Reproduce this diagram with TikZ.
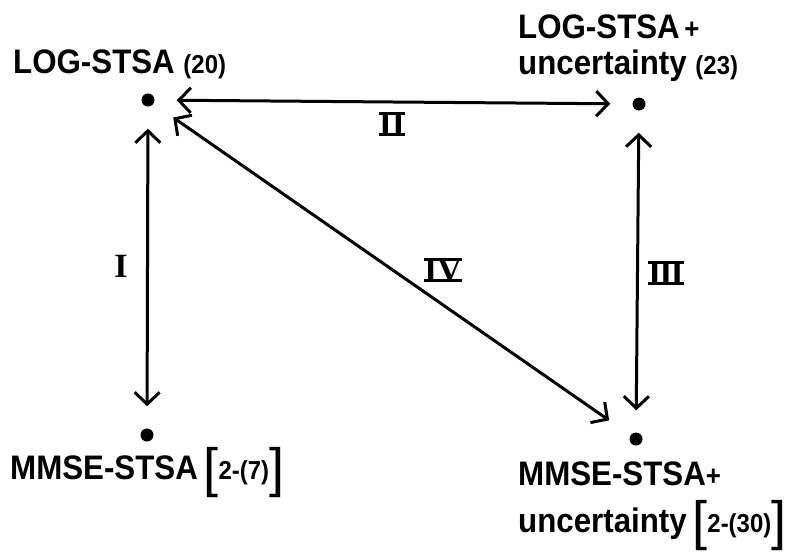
\documentclass[tikz,border=0pt]{standalone}
\usepackage{fontspec}
\usetikzlibrary{arrows.meta}
\newfontfamily\lblfont[FakeStretch=0.92]{Liberation Sans Bold}
\newfontfamily\brkfont{Liberation Sans}
\newfontfamily\romfont{Liberation Serif}
\newcommand\bigtxt{\lblfont\fontsize{34}{36}\selectfont}
\newcommand\smtxt{\lblfont\fontsize{26}{28}\selectfont}
\newcommand\plustxt{\lblfont\fontsize{28}{30}\selectfont}
\newcommand\brk[1]{\raisebox{-7pt}{\brkfont\fontsize{54}{54}\selectfont #1}}
\newcommand\barred[1]{\setbox0\hbox{#1}\leavevmode\rlap{\rule[-0.5pt]{\wd0}{2.8pt}}\rlap{\raisebox{\dimexpr\ht0-2.3pt\relax}{\rule{\wd0}{2.8pt}}}\box0}
\tikzset{
  dot/.style={circle,fill=black,inner sep=0pt,minimum size=13pt},
  txt/.style={inner sep=0pt,anchor=base west},
  rom/.style={inner sep=0pt,font=\romfont\bfseries\fontsize{34}{36}\selectfont},
  arr/.style={line width=3pt,{Straight Barb[length=12pt,width=25pt]}-{Straight Barb[length=12pt,width=25pt]},shorten <=22pt,shorten >=22pt}
}
\begin{document}
\begin{tikzpicture}[x=1pt,y=-1pt]
\useasboundingbox (0,0) rectangle (801,552);
% dots
\node[dot] (tl) at (148,100) {};
\node[dot] (tr) at (639,104) {};
\node[dot] (bl) at (147,435) {};
\node[dot] (br) at (636,439) {};
% labels
\node[txt] (ltl) at (13,73) {\bigtxt LOG-STSA \smtxt(20)};
\node[txt] (ltr1) at (518,38) {\bigtxt LOG-STSA\plustxt\,+};
\node[txt] (ltr2) at (518,74) {\bigtxt uncertainty \smtxt(23)};
\node[txt] (lbl) at (10,479) {\bigtxt MMSE-STSA\,\brk{[}\smtxt 2-(7)\brk{]}};
\node[txt] (lbr1) at (518,485) {\bigtxt MMSE-STSA\plustxt+};
\node[txt] (lbr2) at (518,532) {\bigtxt uncertainty\,\brk{[}\smtxt 2-(30)\brk{]}};
% arrows
\draw[arr] (tl) -- (tr);
\draw[arr] (tl) -- (bl);
\draw[arr] (tr) -- (br);
\draw[arr,shorten <=24pt,shorten >=26pt] (tl) -- (br);
% roman numerals
\node[rom] (n1) at (121,266) {I};
\node[rom] (n2) at (392,124) {\barred{II}};
\node[rom] (n3) at (666,273) {\barred{I\kern-2pt I\kern-2pt I}};
\node[rom] (n4) at (443,270) {\barred{IV}};
\end{tikzpicture}
\end{document}
